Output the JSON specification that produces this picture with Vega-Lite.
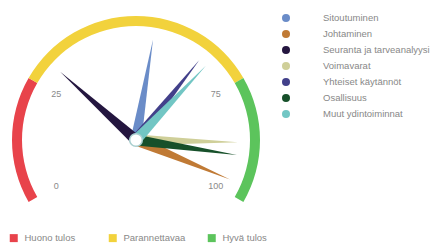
{
  "$schema": "https://vega.github.io/schema/vega-lite/v6.json",
  "width": 270,
  "height": 245,
  "padding": 0,
  "background": "white",
  "config": {"view": {"stroke": null}, "font": "Liberation Sans"},
  "layer": [
    {
      "data": {"values": [
        {"band": "Huono tulos", "start": 0, "end": 25},
        {"band": "Parannettavaa", "start": 25, "end": 75},
        {"band": "Hyvä tulos", "start": 75, "end": 100}
      ]},
      "mark": {"type": "arc", "outerRadius": 124, "innerRadius": 114},
      "encoding": {
        "x": {"datum": 0, "type": "quantitative", "scale": {"domain": [-136, 134], "nice": false, "zero": false}, "axis": null},
        "y": {"datum": 0, "type": "quantitative", "scale": {"domain": [-105, 140], "nice": false, "zero": false}, "axis": null},
        "theta": {"field": "start", "type": "quantitative", "stack": null, "scale": {"domain": [0, 100], "range": [-2.0944, 2.0944]}},
        "theta2": {"field": "end"},
        "fill": {
          "field": "band", "type": "nominal",
          "scale": {"domain": ["Huono tulos", "Parannettavaa", "Hyvä tulos"], "range": ["#e8434b", "#f2d23c", "#5cc45c"]},
          "legend": {
            "title": null, "orient": "none", "legendX": 9, "legendY": 233, "direction": "horizontal",
            "columns": 3, "gridAlign": "all", "columnPadding": 21, "symbolType": "square", "symbolSize": 64,
            "symbolStrokeWidth": 0, "labelOffset": 6, "labelFontSize": 9.5, "labelColor": "#888888"
          }
        }
      }
    },
    {
      "data": {"values": [
        {"t": 0, "label": "0"},
        {"t": 25, "label": "25"},
        {"t": 75, "label": "75"},
        {"t": 100, "label": "100"}
      ]},
      "mark": {"type": "text", "radius": 92, "fontSize": 9, "color": "#8a8a8a"},
      "encoding": {
        "x": {"datum": 0, "type": "quantitative"},
        "y": {"datum": 0, "type": "quantitative"},
        "theta": {"field": "t", "type": "quantitative", "stack": null},
        "text": {"field": "label"}
      }
    },
    {
      "data": {"values": [
        {"name": "Sitoutuminen", "value": 54},
        {"name": "Johtaminen", "value": 97},
        {"name": "Seuranta ja tarveanalyysi", "value": 30},
        {"name": "Voimavarat", "value": 88},
        {"name": "Yhteiset käytännöt", "value": 66},
        {"name": "Osallisuus", "value": 91},
        {"name": "Muut ydintoiminnat", "value": 68}
      ]},
      "mark": {"type": "point", "shape": "M-0.055,0.02 L0,-1 L0.055,0.02 Z", "size": 41616, "filled": true, "opacity": 1, "strokeWidth": 0},
      "encoding": {
        "x": {"datum": 0, "type": "quantitative"},
        "y": {"datum": 0, "type": "quantitative"},
        "angle": {"field": "value", "type": "quantitative", "scale": {"domain": [0, 100], "range": [-120, 120]}},
        "color": {
          "field": "name", "type": "nominal",
          "scale": {
            "domain": ["Sitoutuminen", "Johtaminen", "Seuranta ja tarveanalyysi", "Voimavarat", "Yhteiset käytännöt", "Osallisuus", "Muut ydintoiminnat"],
            "range": ["#6a8cc8", "#c07a35", "#24163f", "#cfcf99", "#42408a", "#17502a", "#72c6c4"]
          },
          "legend": {
            "title": null, "orient": "none", "legendX": 281, "legendY": 13, "symbolType": "circle", "symbolSize": 64,
            "labelOffset": 32, "labelFontSize": 9.5, "labelColor": "#888888", "rowPadding": 6
          }
        }
      }
    },
    {
      "data": {"values": [{"c": 0}]},
      "mark": {"type": "point", "shape": "circle", "size": 160, "filled": true, "fill": "white", "stroke": "#a9cfcf", "strokeWidth": 1.5, "opacity": 1},
      "encoding": {
        "x": {"datum": 0, "type": "quantitative"},
        "y": {"datum": 0, "type": "quantitative"}
      }
    }
  ]
}
